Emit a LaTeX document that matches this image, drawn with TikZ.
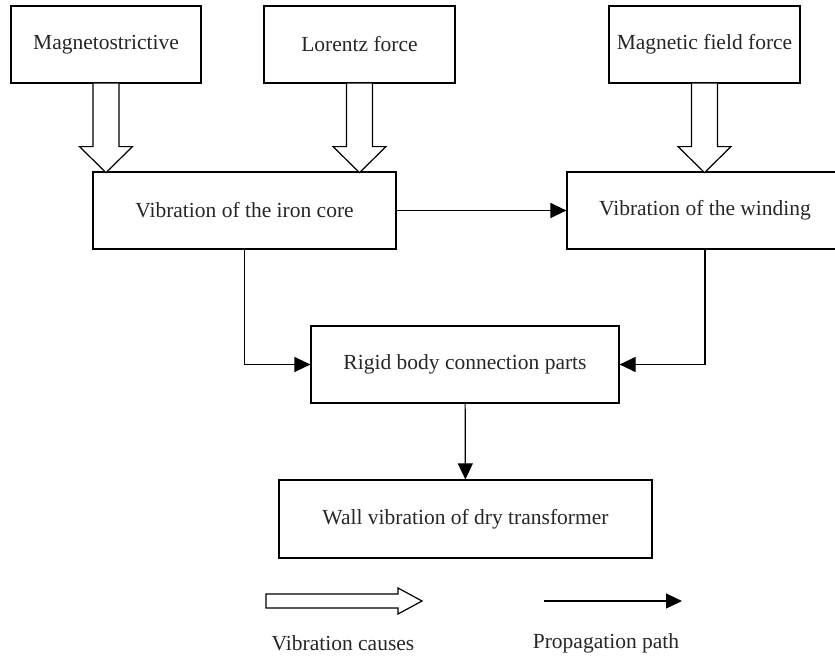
\documentclass[tikz,border=0pt]{standalone}
\usepackage{fontspec}
\setmainfont{Liberation Serif}
\usetikzlibrary{arrows.meta}
\begin{document}
\begin{tikzpicture}[x=1pt,y=-1pt,
  box/.style={draw, line width=1.2pt, inner sep=0pt, font=\fontsize{21.5}{26}\selectfont, text=black!85},
  hollow/.style={draw, line width=1.2pt, fill=white, line join=miter},
  prop/.style={draw, line width=1.2pt, -{Triangle[length=16pt,width=15pt]}},
  lbl/.style={font=\fontsize{21.5}{26}\selectfont, text=black!85, inner sep=0pt}]
\useasboundingbox (0,0) rectangle (835,661);
\clip (0,0) rectangle (835,661);
\node[box, minimum width=190pt, minimum height=77pt] (mag) at (106,44.5) {Magnetostrictive};
\node[box, minimum width=191pt, minimum height=77pt] (lor) at (359.5,44.5) {Lorentz force};
\node[box, minimum width=191pt, minimum height=77pt] (mff) at (704.5,44.5) {Magnetic field force};
\node[box, minimum width=303pt, minimum height=77pt] (iron) at (244.5,210.5) {Vibration of the iron core};
\node[box, minimum width=276pt, minimum height=77pt] (wind) at (705,210.5) {Vibration of the winding};
\node[box, minimum width=308pt, minimum height=77pt] (rigid) at (465,364.5) {Rigid body connection parts};
\node[box, minimum width=373pt, minimum height=78pt] (wall) at (465.5,519) {Wall vibration of dry transformer};
% hollow cause arrows
\foreach \n in {mag,lor,mff}{
  \draw[hollow] (\n.south) +(-13,0) -- +(-13,63) -- +(-26.5,63) -- +(0,89) -- +(26.5,63) -- +(13,63) -- +(13,0);
}
% propagation arrows
\draw[prop] (iron) -- (wind);
\draw[prop] (iron.south) |- (rigid.west);
\draw[prop] (wind.south) |- (rigid.east);
\draw[prop] (rigid) -- (wall);
% legend
\coordinate (c1) at (266,601);
\coordinate (c2) at (544,601);
\coordinate (c3) at (682,601);
\draw[hollow] (c1) +(0,-7) -- +(132,-7) -- +(132,-13) -- +(156,0) -- +(132,13) -- +(132,7) -- +(0,7) -- cycle;
\draw[prop] (c2) -- (c3);
\node[lbl] (l1) at (343,643) {Vibration causes};
\node[lbl] (l2) at (606,643) {Propagation path};
\end{tikzpicture}
\end{document}
